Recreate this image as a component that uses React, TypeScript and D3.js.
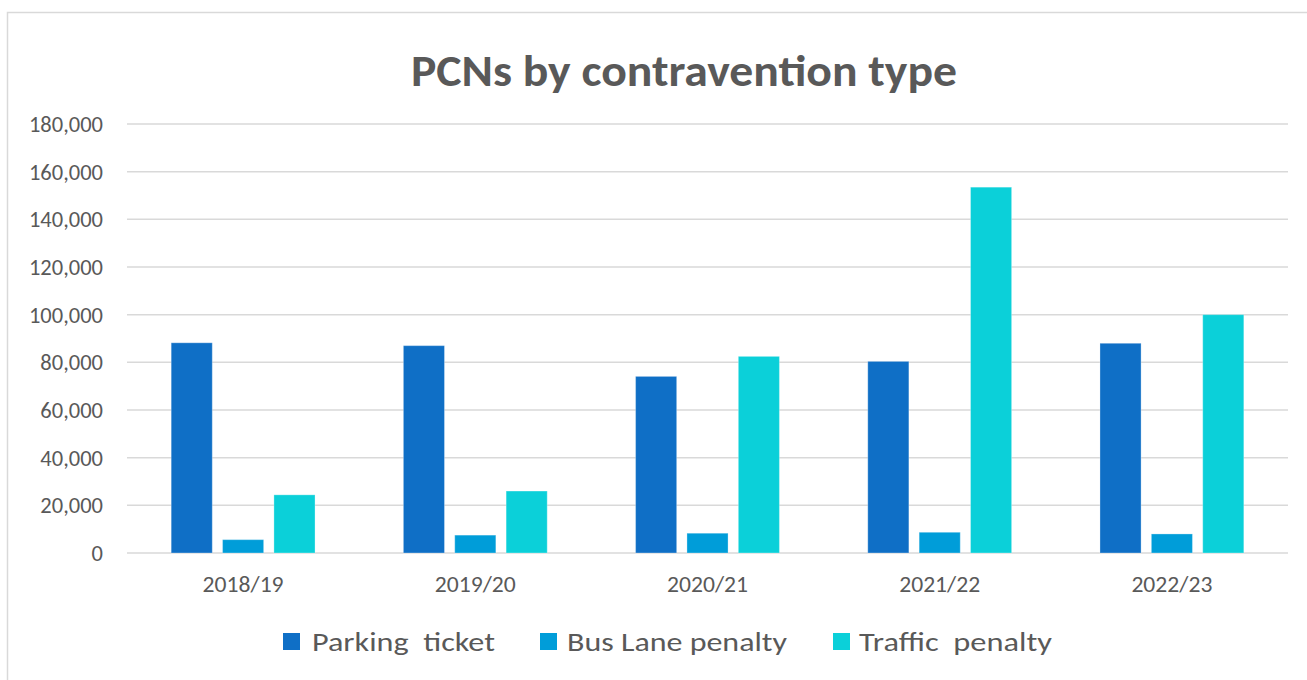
import React from "react";
import * as d3 from "d3";

const categories = ["2018/19", "2019/20", "2020/21", "2021/22", "2022/23"];
const seriesNames = ["Parking  ticket", "Bus Lane penalty", "Traffic  penalty"];
const parkingTicket = [88200, 87000, 74100, 80400, 88000];
const busLanePenalty = [5600, 7500, 8300, 8700, 8000];
const trafficPenalty = [24400, 26000, 82500, 153500, 100000];
const yTicks = [0, 20000, 40000, 60000, 80000, 100000, 120000, 140000, 160000, 180000];
const colors = ["#0F6FC6", "#009DD9", "#0BD0D9"];

const W = 1307;
const H = 680;
const FONT = "Carlito, Calibri, 'Liberation Sans', Arial, sans-serif";

export default function App() {
  const series = [parkingTicket, busLanePenalty, trafficPenalty];
  const plotLeft = 127;
  const plotRight = 1288;
  const y = d3.scaleLinear().domain([0, 180000]).range([553, 124]);
  const x = d3.scaleBand<string>().domain(categories).range([plotLeft, plotRight]).padding(0);
  const band = x.bandwidth();
  const barW = band / 5.65;
  const groupW = barW * 3 + barW * 0.25 * 2;
  const inner = d3
    .scaleBand<number>()
    .domain([0, 1, 2])
    .range([-groupW / 2, groupW / 2])
    .paddingInner(0.2)
    .paddingOuter(0);

  const fmt = d3.format(",");

  const legendItems = [
    { sq: 283, tx: 312, len: 183 },
    { sq: 540, tx: 567, len: 220 },
    { sq: 833, tx: 859, len: 193 },
  ];

  return (
    <svg width={W} height={H} style={{ position: "absolute", left: 0, top: 0 }}>
      <rect x={0} y={0} width={W} height={H} fill="#fff" />
      <rect x={7.5} y={12.5} width={W + 50} height={H + 50} fill="#fff" stroke="#D9D9D9" strokeWidth={1.5} />
      <text
        x={684}
        y={86}
        textAnchor="middle"
        fontFamily={FONT}
        fontWeight="bold"
        fontSize={45}
        fill="#595959"
        textLength={546}
        lengthAdjust="spacingAndGlyphs"
      >
        PCNs by contravention type
      </text>
      {yTicks.map((t) => (
        <g key={t}>
          <line x1={plotLeft} x2={plotRight} y1={y(t)} y2={y(t)} stroke="#D9D9D9" strokeWidth={1.5} />
          <text
            x={103}
            y={y(t)}
            dy="0.35em"
            textAnchor="end"
            fontFamily={FONT}
            fontSize={22.5}
            fill="#595959"
          >
            {fmt(t)}
          </text>
        </g>
      ))}
      {categories.map((c, ci) => {
        const cx = (x(c) as number) + band / 2;
        return (
          <g key={c}>
            {series.map((s, si) => (
              <rect
                key={si}
                x={cx + (inner(si) as number)}
                y={y(s[ci])}
                width={inner.bandwidth()}
                height={y(0) - y(s[ci])}
                fill={colors[si]}
                stroke="#ffffff"
                strokeOpacity={0.3}
                strokeWidth={1}
              />
            ))}
            <text
              x={cx}
              y={592}
              textAnchor="middle"
              fontFamily={FONT}
              fontSize={22.5}
              fill="#595959"
              textLength={81}
              lengthAdjust="spacingAndGlyphs"
            >
              {c}
            </text>
          </g>
        );
      })}
      {seriesNames.map((n, i) => (
        <g key={n}>
          <rect x={legendItems[i].sq} y={633} width={17} height={17} fill={colors[i]} />
          <text
            x={legendItems[i].tx}
            y={651}
            fontFamily={FONT}
            fontSize={27}
            fill="#595959"
            textLength={legendItems[i].len}
            lengthAdjust="spacingAndGlyphs"
            style={{ whiteSpace: "pre" }}
          >
            {n}
          </text>
        </g>
      ))}
    </svg>
  );
}
